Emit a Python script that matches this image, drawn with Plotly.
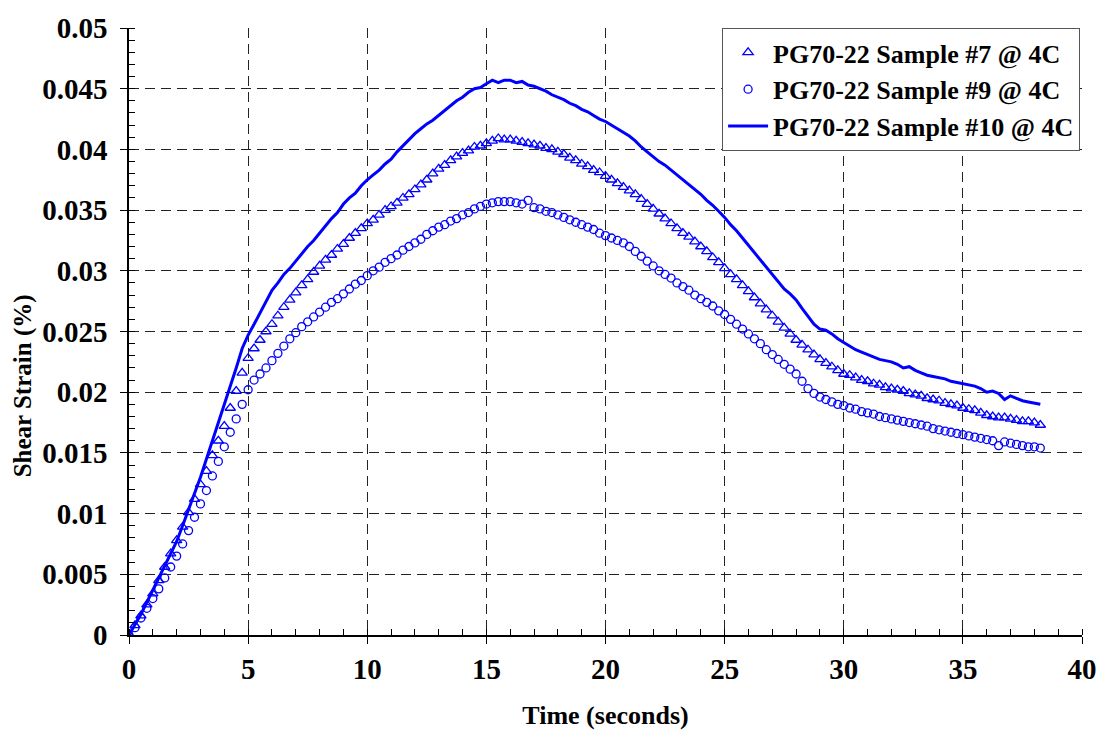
import plotly.graph_objects as go

# Sampling grid (seconds)
time = [round(0.25 * i, 2) for i in range(154)]

sample7 = [
    0, 0.0008, 0.0016, 0.0025, 0.0034,
    0.0045, 0.0056, 0.0067, 0.0078,
    0.0089, 0.0101, 0.0112, 0.0124,
    0.0135, 0.0148, 0.0160, 0.0172,
    0.0187, 0.0201, 0.0216, 0.0228,
    0.0236, 0.0243, 0.0250, 0.0256,
    0.0263, 0.0270, 0.0276, 0.0282,
    0.0288, 0.0293, 0.0299, 0.0304,
    0.0309, 0.0313, 0.0318, 0.0322,
    0.0327, 0.0331, 0.0335, 0.0339,
    0.0342, 0.0346, 0.0350, 0.0353,
    0.0356, 0.0360, 0.0363, 0.0367,
    0.0371, 0.0375, 0.0380, 0.0384,
    0.0387, 0.0391, 0.0394, 0.0397,
    0.0399, 0.0402, 0.0403, 0.0405,
    0.0407, 0.0409, 0.0408, 0.0408,
    0.0407, 0.0406, 0.0405, 0.0404,
    0.0403, 0.0401, 0.0400, 0.0398,
    0.0396, 0.0393, 0.0391, 0.0388,
    0.0386, 0.0383, 0.0381, 0.0378,
    0.0375, 0.0372, 0.0369, 0.0366,
    0.0363, 0.0359, 0.0355, 0.0351,
    0.0347, 0.0343, 0.0339, 0.0335,
    0.0331, 0.0328, 0.0324, 0.0320,
    0.0316, 0.0311, 0.0307, 0.0302,
    0.0297, 0.0293, 0.0288, 0.0283,
    0.0278, 0.0273, 0.0268, 0.0263,
    0.0258, 0.0253, 0.0248, 0.0243,
    0.0239, 0.0235, 0.0231, 0.0227,
    0.0224, 0.0221, 0.0218, 0.0215,
    0.0214, 0.0212, 0.0210, 0.0209,
    0.0207, 0.0206, 0.0204, 0.0203,
    0.0202, 0.0201, 0.0199, 0.0198,
    0.0197, 0.0195, 0.0194, 0.0193,
    0.0191, 0.0190, 0.0189, 0.0187,
    0.0186, 0.0185, 0.0183, 0.0181,
    0.0180, 0.0179, 0.0179, 0.0178,
    0.0177, 0.0176, 0.0176, 0.0175,
    0.0173,
]

sample9 = [
    0, 0.0006, 0.0014, 0.0022, 0.0030,
    0.0038, 0.0047, 0.0056, 0.0065,
    0.0075, 0.0086, 0.0097, 0.0108,
    0.0119, 0.0131, 0.0143, 0.0155,
    0.0167, 0.0178, 0.0190, 0.0202,
    0.0210, 0.0215, 0.0220, 0.0226,
    0.0232, 0.0238, 0.0244, 0.0249,
    0.0254, 0.0258, 0.0262, 0.0266,
    0.0270, 0.0274, 0.0277, 0.0281,
    0.0285, 0.0289, 0.0292, 0.0296,
    0.0300, 0.0303, 0.0307, 0.0310,
    0.0313, 0.0317, 0.0320, 0.0323,
    0.0326, 0.0330, 0.0333, 0.0336,
    0.0338, 0.0341, 0.0343, 0.0346,
    0.0348, 0.0351, 0.0353, 0.0355,
    0.0356, 0.0357, 0.0357, 0.0357,
    0.0356, 0.0355, 0.0358, 0.0352,
    0.0351, 0.0349, 0.0348, 0.0346,
    0.0344, 0.0342, 0.0340, 0.0338,
    0.0336, 0.0334, 0.0331, 0.0329,
    0.0327, 0.0325, 0.0323, 0.0320,
    0.0316, 0.0312, 0.0308, 0.0304,
    0.0300, 0.0297, 0.0294, 0.0290,
    0.0287, 0.0284, 0.0280, 0.0277,
    0.0274, 0.0271, 0.0267, 0.0264,
    0.0260, 0.0256, 0.0252, 0.0248,
    0.0244, 0.0240, 0.0235, 0.0231,
    0.0227, 0.0223, 0.0219, 0.0215,
    0.0209, 0.0203, 0.0199, 0.0196,
    0.0194, 0.0192, 0.0190, 0.0189,
    0.0187, 0.0186, 0.0184, 0.0183,
    0.0182, 0.0180, 0.0179, 0.0178,
    0.0177, 0.0176, 0.0175, 0.0174,
    0.0173, 0.0172, 0.0170, 0.0169,
    0.0168, 0.0167, 0.0166, 0.0165,
    0.0164, 0.0163, 0.0162, 0.0161,
    0.0160, 0.0156, 0.0159, 0.0158,
    0.0157, 0.0156, 0.0155, 0.0155,
    0.0154,
]

sample10 = [
    0, 0.0008, 0.0017, 0.0027, 0.0037,
    0.0047, 0.0057, 0.0067, 0.0077,
    0.0090, 0.0103, 0.0117, 0.0130,
    0.0145, 0.0160, 0.0175, 0.0189,
    0.0204, 0.0220, 0.0236, 0.0247,
    0.0256, 0.0265, 0.0275, 0.0284,
    0.0290, 0.0297, 0.0302, 0.0308,
    0.0314, 0.0320, 0.0325, 0.0331,
    0.0337, 0.0343, 0.0348, 0.0355,
    0.0360, 0.0364, 0.0370, 0.0375,
    0.0379, 0.0383, 0.0388, 0.0392,
    0.0398, 0.0403, 0.0408, 0.0413,
    0.0417, 0.0421, 0.0424, 0.0428,
    0.0432, 0.0436, 0.0440, 0.0443,
    0.0447, 0.0450, 0.0451, 0.0454,
    0.0457, 0.0455, 0.0457, 0.0457,
    0.0455, 0.0456, 0.0453, 0.0452,
    0.0450, 0.0448, 0.0445, 0.0443,
    0.0441, 0.0438, 0.0436, 0.0433,
    0.0431, 0.0428, 0.0425, 0.0423,
    0.0420, 0.0417, 0.0414, 0.0411,
    0.0407, 0.0402, 0.0398, 0.0394,
    0.0390, 0.0387, 0.0383, 0.0379,
    0.0375, 0.0371, 0.0367, 0.0363,
    0.0358, 0.0354, 0.0349, 0.0344,
    0.0338, 0.0333, 0.0327, 0.0321,
    0.0315, 0.0309, 0.0303, 0.0297,
    0.0291, 0.0285, 0.0281, 0.0276,
    0.0269, 0.0262, 0.0256, 0.0252,
    0.0251, 0.0248, 0.0244, 0.0241,
    0.0238, 0.0235, 0.0233, 0.0231,
    0.0229, 0.0227, 0.0226, 0.0225,
    0.0223, 0.0220, 0.0221, 0.0218,
    0.0216, 0.0214, 0.0213, 0.0212,
    0.0211, 0.0209, 0.0208, 0.0207,
    0.0206, 0.0205, 0.0203, 0.0200,
    0.0201, 0.0199, 0.0194, 0.0197,
    0.0195, 0.0193, 0.0192, 0.0191,
    0.0190,
]

x_ticks = [0, 5, 10, 15, 20, 25, 30, 35, 40]
y_ticks = [0, 0.005, 0.01, 0.015, 0.02, 0.025, 0.03, 0.035, 0.04, 0.045, 0.05]
y_tick_labels = ["0", "0.005", "0.01", "0.015", "0.02", "0.025", "0.03", "0.035", "0.04", "0.045", "0.05"]

BLUE = "#0000FF"
FONT = "Liberation Serif"

fig = go.Figure()
fig.add_trace(go.Scatter(
    x=time, y=sample7, mode="markers", name="<b>PG70-22 Sample #7 @ 4C</b>",
    legendgroup="a",
    marker=dict(symbol="triangle-up-open", size=9, color=BLUE, line=dict(width=1.3, color=BLUE)),
))
fig.add_trace(go.Scatter(
    x=time, y=sample9, mode="markers", name="<b>PG70-22 Sample #9 @ 4C</b>",
    legendgroup="b",
    marker=dict(symbol="circle-open", size=8, color=BLUE, line=dict(width=1.3, color=BLUE)),
))
fig.add_trace(go.Scatter(
    x=time, y=sample10, mode="lines", name="<b>PG70-22 Sample #10 @ 4C</b>",
    legendgroup="c",
    line=dict(color=BLUE, width=3),
))

TICKFONT = dict(family=FONT, size=29, color="black")

axis_common = dict(
    showline=True, linecolor="black", linewidth=1.5,
    showgrid=True, gridcolor="#222222", griddash="10px,6px", gridwidth=1,
    zeroline=False,
    ticks="outside", ticklen=7, tickcolor="black", tickwidth=1,
)

fig.update_xaxes(
    range=[0, 40], tickvals=x_ticks, ticktext=[f"<b>{t}</b>" for t in x_ticks],
    tickfont=TICKFONT,
    title=dict(text="<b>Time (seconds)</b>", font=dict(family=FONT, size=26, color="black"), standoff=22),
    minor=dict(dtick=1, ticks="inside", ticklen=6, tickcolor="black", showgrid=False),
    **axis_common,
)
fig.update_yaxes(
    range=[0, 0.05], tickvals=y_ticks, ticktext=[f"<b>{t}</b>" for t in y_tick_labels],
    tickfont=TICKFONT, ticklabelstandoff=7,
    minor=dict(dtick=0.001, ticks="inside", ticklen=6, tickcolor="black", showgrid=False),
    **axis_common,
)

fig.add_annotation(
    text="<b>Shear Strain (%)</b>", textangle=-90,
    xref="paper", yref="paper", x=-0.111, y=0.41,
    xanchor="center", yanchor="middle", showarrow=False,
    font=dict(family=FONT, size=25, color="black"),
)

fig.update_layout(
    width=1109, height=739,
    margin=dict(l=129, r=19, t=20, b=104),
    paper_bgcolor="white", plot_bgcolor="white",
    font=dict(family=FONT, color="black"),
    showlegend=True,
    legend=dict(
        x=0.998, xanchor="right", y=1.0, yanchor="top",
        bgcolor="white", bordercolor="#555555", borderwidth=1,
        font=dict(family=FONT, size=26, color="black"),
        traceorder="grouped", tracegroupgap=0,
        itemwidth=40,
    ),
)

fig.write_html("out.html")
